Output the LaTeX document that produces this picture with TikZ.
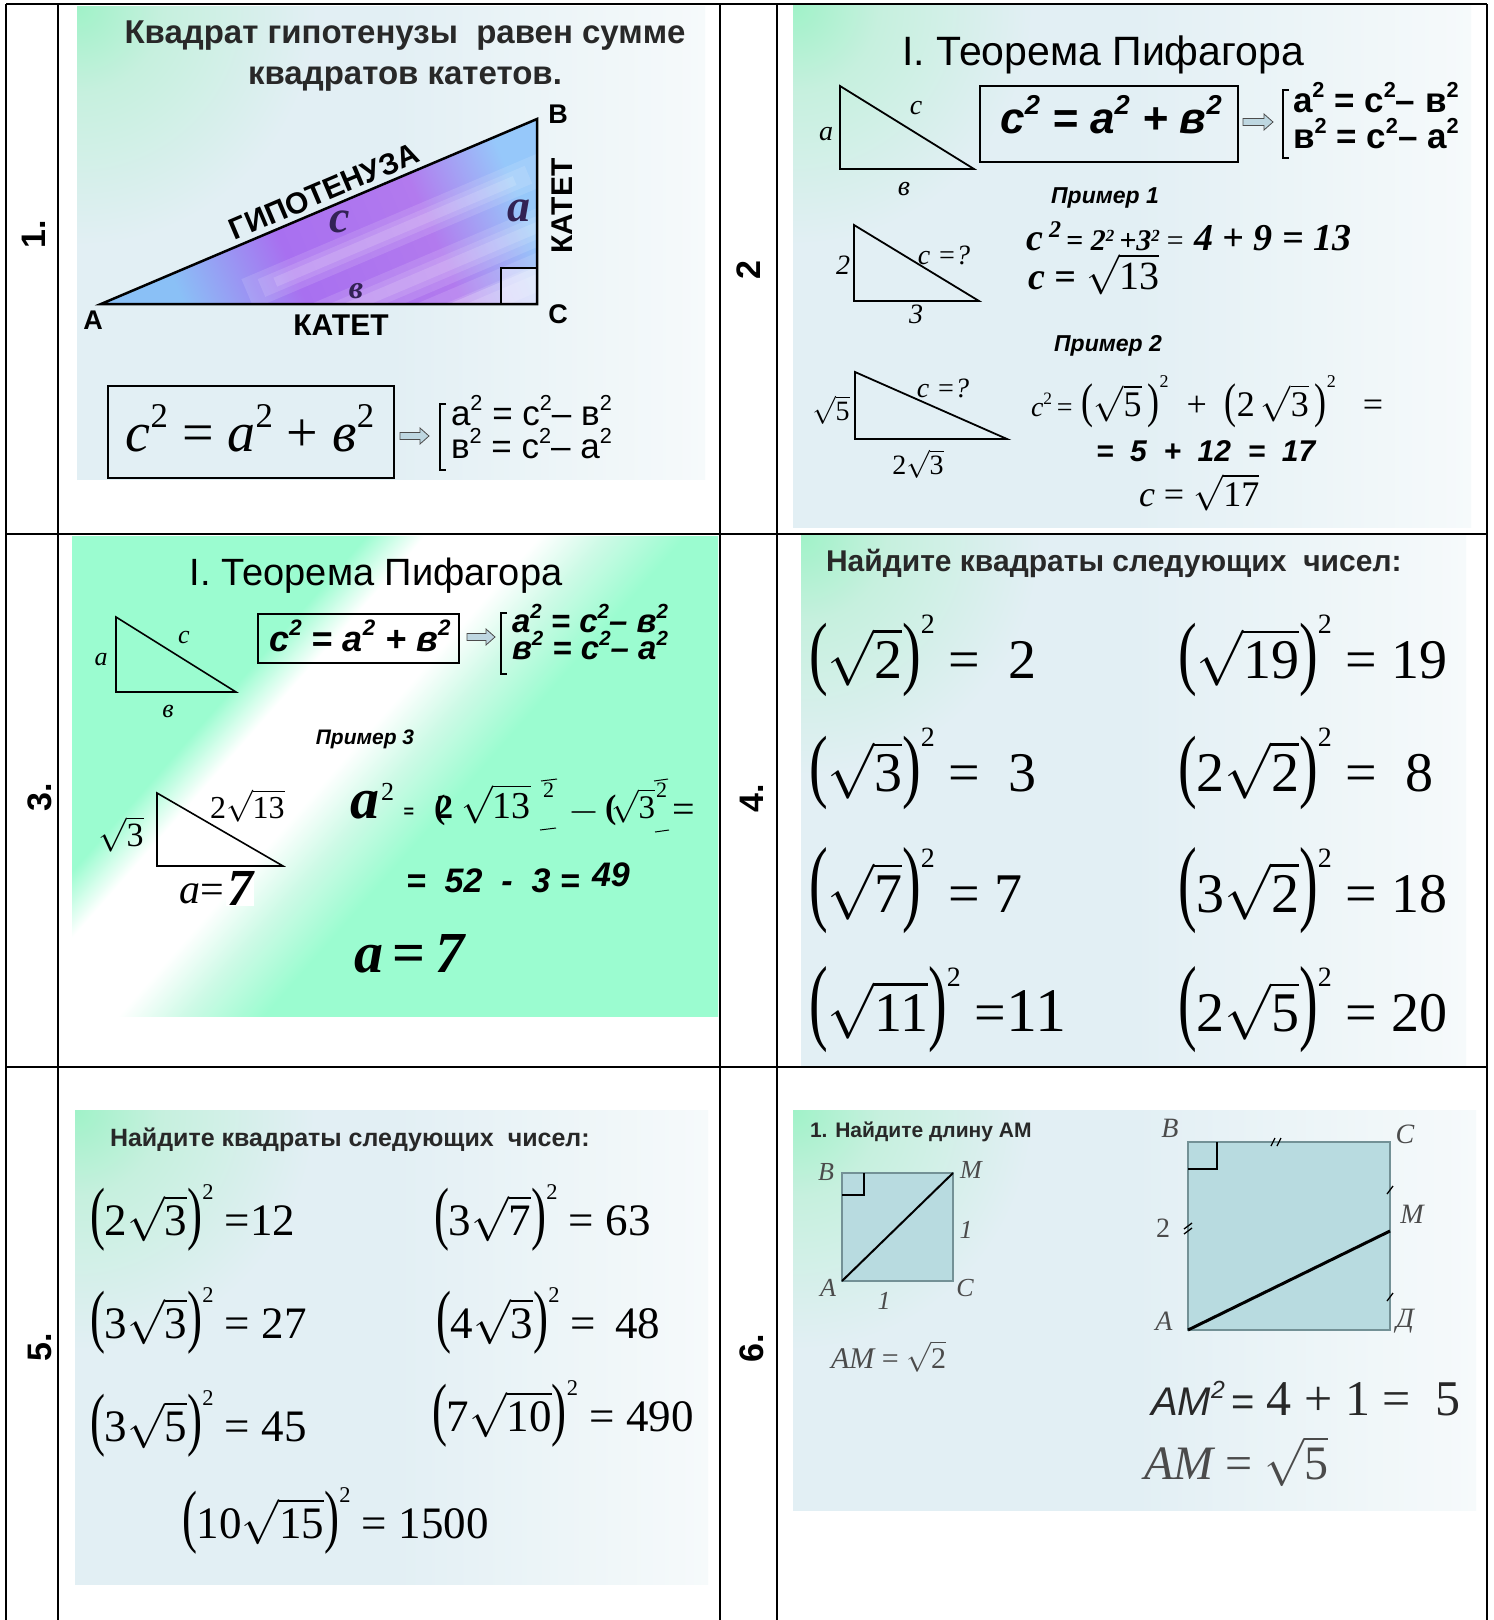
\RequirePackage{fix-cm}
\documentclass[tikz,border=0pt]{standalone}
\usepackage{fontspec}
\usepackage{graphicx}
\setmainfont{Liberation Serif}
\newfontfamily\arialf{Liberation Sans}
\newcommand\fsz[1]{\fontsize{#1}{#1}\selectfont}
\newcommand\sq[1]{\raisebox{0.42em}{\scalebox{0.62}{#1}}}
\newcommand\psq[1]{\raisebox{0.8em}{\scalebox{0.5}{#1}}}
\newcommand\LP[1][1.45]{\raisebox{-0.03em}{\scalebox{1}[#1]{(}}}
\newcommand\RP[1][1.45]{\raisebox{-0.03em}{\scalebox{1}[#1]{)}}}
\newcommand\rt[1]{$\sqrt{\mbox{#1}}$}

\definecolor{bgblue}{RGB}{226,239,244}
\definecolor{bgwhite}{RGB}{246,250,251}
\definecolor{glow}{RGB}{160,242,200}
\definecolor{glowmid}{RGB}{198,240,222}
\definecolor{mint}{RGB}{155,252,208}
\definecolor{mintpale}{RGB}{205,250,230}
\definecolor{tblue}{RGB}{138,192,246}
\definecolor{tpurp}{RGB}{168,112,240}
\definecolor{tpurp2}{RGB}{178,122,238}
\definecolor{tblue3}{RGB}{150,200,250}
\definecolor{tealf}{RGB}{184,219,224}
\definecolor{tealline}{RGB}{115,145,150}
\definecolor{txtd}{RGB}{40,40,40}
\definecolor{lblc}{RGB}{75,75,75}
\definecolor{letc}{RGB}{50,34,84}
\definecolor{arrowc}{RGB}{190,215,225}

\pgfdeclarehorizontalshading{basesh}{100bp}{color(0bp)=(bgblue); color(50bp)=(bgblue); color(75bp)=(bgwhite); color(100bp)=(bgwhite)}
\pgfdeclareradialshading{glowsh}{\pgfpoint{0bp}{0bp}}{color(0bp)=(glow); color(9bp)=(glowmid); color(25bp)=(bgblue); color(50bp)=(bgblue)}
\pgfdeclarehorizontalshading{bandsh}{100bp}{color(0bp)=(mint); color(41bp)=(mint); color(43.2bp)=(white); color(47.5bp)=(white); color(50bp)=(mintpale); color(53bp)=(mint); color(100bp)=(mint)}
\pgfdeclarehorizontalshading{trish}{100bp}{color(0bp)=(tblue); color(33bp)=(tblue); color(45bp)=(tpurp); color(60bp)=(tpurp2); color(70bp)=(tblue3); color(100bp)=(tblue3)}

\newcommand\slidebg[5]{%
  \begin{scope}
    \clip (#1,#2) rectangle (#3,#4);
    \shade[shading=basesh] (#1,#2) rectangle (#3,#4);
    \shade[shading=glowsh] (#1,#2) circle (#5);
  \end{scope}}
\newcommand\harrow[3]{%
  \filldraw[fill=arrowc, draw=black!70, line width=0.8pt] (#1,#3-3.5) -- (#2-9,#3-3.5) -- (#2-9,#3-8) -- (#2,#3) -- (#2-9,#3+8) -- (#2-9,#3+3.5) -- (#1,#3+3.5) -- cycle;}
\newcommand\brk[3]{\draw[line width=1.5pt] (#1+6,#2)--(#1,#2)--(#1,#3)--(#1+6,#3);}
\newcommand\streak[4]{% x1 x2 yc halfwidth
  \fill[white, opacity=0.12] (#1,#3-#4) rectangle (#2,#3+#4);
  \fill[white, opacity=0.12] (#1+15,#3-0.6*#4) rectangle (#2-15,#3+0.6*#4);
  \fill[white, opacity=0.14] (#1+30,#3-0.3*#4) rectangle (#2-30,#3+0.3*#4);}

\tikzset{
  lbl/.style={font=\arialf\bfseries\fsz{34}, rotate=90, inner sep=0},
  tx/.style={inner sep=0, outer sep=0},
  sansb/.style={tx, font=\arialf\bfseries},
  grid/.style={line width=2pt},
}

\begin{document}
\begin{tikzpicture}[x=1pt,y=-1pt]
\useasboundingbox (0,0) rectangle (1494,1620);
\fill[white] (0,0) rectangle (1494,1620);

% ================= slide 1 =================
\slidebg{77}{6}{705}{479}{240}
\node[tx, anchor=base, text=txtd, font=\arialf\bfseries\fsz{33}] (s1t1) at (405,43) {Квадрат гипотенузы\ \ равен сумме};
\node[tx, anchor=base, text=txtd, font=\arialf\bfseries\fsz{33}] (s1t2) at (405,84) {квадратов катетов.};
\begin{scope}
  \clip (101,304) -- (537,119) -- (537,304) -- cycle;
  \begin{scope}[transform canvas={rotate around={23:(101,304)}}]
    \shade[shading=trish] (101,54) rectangle (575,554);
    \streak{240}{560}{352}{16}
    \streak{200}{570}{404}{18}
    \streak{330}{620}{455}{28}
    \fill[white, opacity=0.2] (420,440) rectangle (640,520);
  \end{scope}
  \fill[white, opacity=0.45] (501,268) rectangle (537,304);
\end{scope}
\draw[line width=2.5pt, line join=miter] (101,304) -- (537,119) -- (537,304) -- cycle;
\draw[line width=2pt] (501,304) -- (501,268) -- (537,268);
\node[sansb, font=\arialf\bfseries\fsz{27}] (s1B) at (558,114) {B};
\node[sansb, font=\arialf\bfseries\fsz{27}] (s1C) at (558,314) {C};
\node[sansb, font=\arialf\bfseries\fsz{27}] (s1A) at (93,320) {A};
\node[sansb, font=\arialf\bfseries\fsz{30}, rotate=90] (s1k1) at (562,206) {КАТЕТ};
\node[sansb, font=\arialf\bfseries\fsz{30}] (s1k2) at (341,325) {КАТЕТ};
\node[sansb, font=\arialf\bfseries\fsz{30}, rotate=23, anchor=base] (s1g) at (328,201) {ГИПОТЕНУЗА};
\node[tx, text=letc, font=\bfseries\itshape\fsz{46}] (s1c) at (340,222) {c};
\node[tx, text=letc, font=\bfseries\itshape\fsz{46}] (s1a) at (519,211) {a};
\node[tx, text=letc, font=\bfseries\itshape\fsz{32}] (s1v) at (356,291) {в};
\draw[line width=1.8pt] (108,386) rectangle (394,478);
\node[tx, anchor=base, font=\itshape\fsz{56}] (s1f) at (250,451) {c\sq{\upshape 2} \textup{=} a\sq{\upshape 2} \textup{+} в\sq{\upshape 2}};
\harrow{400}{429}{436}
\brk{440}{404}{470}
\node[tx, anchor=base west, font=\arialf\fsz{35}] (s1l1) at (451,425) {a\sq{2} = c\sq{2}– в\sq{2}};
\node[tx, anchor=base west, font=\arialf\fsz{35}] (s1l2) at (451,458) {в\sq{2} = c\sq{2}– a\sq{2}};

% ================= slide 2 =================
\slidebg{793}{5}{1471}{527}{240}
\node[tx, anchor=base, font=\arialf\fsz{41}] (s2t) at (1103,65) {I. Теорема Пифагора};
\draw[line width=1.8pt] (840,86) -- (840,169) -- (974,169) -- cycle;
\node[tx, font=\itshape\fsz{28}] (s2a) at (826,134) {a};
\node[tx, font=\itshape\fsz{28}] (s2c) at (916,108) {c};
\node[tx, font=\itshape\fsz{28}] (s2v) at (904,189) {в};
\draw[line width=2.2pt] (980,86) rectangle (1238,162);
\node[tx, anchor=base, font=\arialf\bfseries\itshape\fsz{44}] (s2f) at (1111,133) {c\sq{2} = a\sq{2} + в\sq{2}};
\harrow{1243}{1273}{122}
\brk{1283}{90}{158}
\node[tx, anchor=base west, font=\arialf\bfseries\fsz{35}] (s2l1) at (1293,112) {a\sq{2} = c\sq{2}– в\sq{2}};
\node[tx, anchor=base west, font=\arialf\bfseries\fsz{35}] (s2l2) at (1293,148) {в\sq{2} = c\sq{2}– a\sq{2}};
\node[tx, anchor=base, font=\arialf\bfseries\itshape\fsz{23}] (s2p1) at (1105,203) {Пример 1};
\draw[line width=1.8pt] (854,225) -- (854,301) -- (979,301) -- cycle;
\node[tx, font=\itshape\fsz{28}] (s2e2) at (843,265) {2};
\node[tx, font=\itshape\fsz{28}] (s2ec) at (944,255) {c =?};
\node[tx, font=\itshape\fsz{28}] (s2e3) at (916,314) {3};
\node[tx, anchor=base west, font=\bfseries\itshape] (s2x1) at (1026,250) {{\fsz{38}c\,}\raisebox{13pt}{\fsz{24}2}{\fsz{30}\,= 2\raisebox{9pt}{\fsz{17}2}\,+3\raisebox{9pt}{\fsz{17}2}\,{\mdseries =}}\hspace{9pt}{\fsz{38}4 + 9 = 13}};
\node[tx, anchor=base west, font=\bfseries\itshape\fsz{38}] (s2x2) at (1028,289) {c =};
\node[tx, anchor=base west, font=\fsz{40}] (s2x3) at (1086,289) {\rt{13}};
\node[tx, anchor=base, font=\arialf\bfseries\itshape\fsz{23}] (s2p2) at (1108,351) {Пример 2};
\draw[line width=1.8pt] (855,372) -- (855,439) -- (1007,439) -- cycle;
\node[tx, font=\fsz{28}] (s2r5) at (831,410) {\rt{5}};
\node[tx, font=\itshape\fsz{28}] (s2rc) at (943,388) {c =?};
\node[tx, font=\fsz{28}] (s2r3) at (918,464) {2\rt{3}};
\node[tx, anchor=west, font=\fsz{36}] (s2y1) at (1031,402) {{\fsz{28}{\itshape c}\sq{2}\,=}\ \LP[1.35]\rt{5}\,\RP[1.35]\psq{2}\ \ +\ \ \LP[1.35]2\,\rt{3}\,\RP[1.35]\psq{2}\ \ \ =};
\node[tx, anchor=base west, font=\arialf\bfseries\itshape\fsz{30}] (s2y2) at (1096,461) {=\ \ 5\ \ +\ \ 12\ \ =\ \ 17};
\node[tx, anchor=base west, font=\fsz{36}] (s2y3) at (1139,506) {{\itshape c} = \rt{17}};

% ================= slide 3 =================
\begin{scope}
  \clip (72,536) rectangle (718,1016);
  \fill[mint] (72,536) rectangle (718,1016);
  \begin{scope}[transform canvas={rotate around={-41.3:(395,776)}}]
    \shade[shading=bandsh] (-105,276) rectangle (895,1276);
  \end{scope}
\end{scope}
\node[tx, anchor=base, font=\arialf\fsz{38}] (s3t) at (376,585) {I. Теорема Пифагора};
\draw[line width=1.6pt] (116,617) -- (116,692) -- (236,692) -- cycle;
\node[tx, font=\itshape\fsz{26}] (s3a) at (101,660) {a};
\node[tx, font=\itshape\fsz{26}] (s3c) at (184,637) {c};
\node[tx, font=\itshape\fsz{26}] (s3v) at (168,711) {в};
\draw[line width=1.8pt] (258,614) rectangle (459,663);
\node[tx, anchor=base, font=\arialf\bfseries\itshape\fsz{36}] (s3f) at (360,651) {c\sq{2} = a\sq{2} + в\sq{2}};
\harrow{467}{495}{637}
\brk{501}{613}{674}
\node[tx, anchor=base west, font=\arialf\bfseries\itshape\fsz{33}] (s3l1) at (512,632) {a\sq{2} = c\sq{2}– в\sq{2}};
\node[tx, anchor=base west, font=\arialf\bfseries\itshape\fsz{33}] (s3l2) at (512,659) {в\sq{2} = c\sq{2}– a\sq{2}};
\node[tx, anchor=base, font=\arialf\bfseries\itshape\fsz{21}] (s3p) at (365,744) {Пример 3};
\draw[line width=1.6pt] (157,793) -- (157,866) -- (283,866) -- cycle;
\node[tx, anchor=base west, font=\fsz{32}] (s3h) at (210,818) {2\rt{13}};
\node[tx, font=\fsz{34}] (s3k) at (121,834) {\rt{3}};
\node[tx, anchor=base west, font=\fsz{42}] (s3ae) at (179,903) {{\itshape a}=};
\node[fill=white, inner sep=1pt, anchor=base west, font=\bfseries\itshape\fsz{52}] (s3seven) at (226,905) {7};
\node[tx, anchor=base west, font=\bfseries\itshape\fsz{58}] (s3xa) at (350,818) {a};
\node[tx, anchor=base west, font=\fsz{26}] (s3xs) at (381,800) {2};
\node[tx, font=\arialf\bfseries\fsz{18}] (s3xe) at (409,813) {=};
\node[tx, anchor=base west, font=\bfseries\fsz{34}] (s3xg) at (434,818) {\rlap{(}\hspace{2pt}2};
\node[tx, anchor=base west, font=\fsz{38}] (s3xr) at (461,818) {\rt{13}};
\node[tx, anchor=base west, font=\fsz{22}] (s3xs2) at (543,797) {2};
\draw[line width=1pt] (541,781) -- (557,779);
\draw[line width=1pt] (540,830) -- (556,828);
\node[tx, font=\fsz{40}] (s3xm) at (584,812) {$-$};
\node[tx, anchor=base west, font=\bfseries\fsz{34}] (s3xp) at (605,818) {(};
\node[tx, anchor=base west, font=\fsz{33}] (s3xr2) at (611,818) {\rt{3}};
\node[tx, anchor=base west, font=\fsz{22}] (s3xs3) at (656,797) {2};
\draw[line width=1pt] (654,781) -- (668,779);
\draw[line width=1pt] (655,832) -- (669,830);
\node[tx, font=\fsz{40}] (s3xq) at (684,813) {=};
\node[tx, anchor=base west, font=\arialf\bfseries\itshape\fsz{34}] (s3y1) at (406,892) {=\ \ 52\ \ -\ \ 3\ =};
\node[tx, anchor=base west, font=\arialf\bfseries\itshape\fsz{34}] (s3y2) at (592,886) {49};
\node[tx, anchor=base west, font=\bfseries\itshape\fsz{58}] (s3z) at (354,972) {a\,\textup{=}\,7};

% ================= slide 4 =================
\slidebg{801}{535}{1466}{1066}{240}
\node[tx, anchor=base west, text=txtd, font=\arialf\bfseries\fsz{30}] (s4t) at (826,571) {Найдите квадраты следующих\ \ чисел:};
\begin{scope}[every node/.style={tx, anchor=west, font=\fsz{56}}]
\node (s4a) at (809,656) {\LP\rt{2}\RP\psq{2}\ = \ 2};
\node (s4b) at (1178,656) {\LP\rt{19}\RP\psq{2} = 19};
\node (s4c) at (809,769) {\LP\rt{3}\RP\psq{2}\ = \ 3};
\node (s4d) at (1178,769) {\LP2\rt{2}\RP\psq{2}\ = \ 8};
\node (s4e) at (809,891) {\LP[1.7]\rt{7}\RP[1.7]\psq{2} = 7};
\node (s4f) at (1178,891) {\LP[1.7]3\rt{2}\RP[1.7]\psq{2} = 18};
\node (s4g) at (809,1010) {\LP[1.7]\rt{11}\RP[1.7]\psq{2} ={\fsz{62}11}};
\node (s4h) at (1178,1010) {\LP[1.7]2\rt{5}\RP[1.7]\psq{2} = 20};
\end{scope}

% ================= slide 5 =================
\slidebg{75}{1110}{708}{1584}{240}
\node[tx, anchor=base west, text=txtd, font=\arialf\bfseries\fsz{25}] (s5t) at (110,1146) {Найдите квадраты следующих\ \ чисел:};
\begin{scope}[every node/.style={tx, anchor=west, font=\fsz{45}}]
\node (s5a) at (90,1218) {\LP[1.55]2\rt{3}\RP[1.55]\psq{2} =12};
\node (s5b) at (434,1218) {\LP[1.55]3\rt{7}\RP[1.55]\psq{2} = 63};
\node (s5c) at (90,1321) {\LP[1.55]3\rt{3}\RP[1.55]\psq{2} = 27};
\node (s5d) at (436,1321) {\LP[1.55]4\rt{3}\RP[1.55]\psq{2} = \,48};
\node (s5e) at (90,1424) {\LP[1.55]3\rt{5}\RP[1.55]\psq{2} = 45};
\node (s5f) at (432,1414) {\LP[1.55]7\rt{10}\RP[1.55]\psq{2} = 490};
\node (s5g) at (182,1521) {\LP[1.55]10\rt{15}\RP[1.55]\psq{2} = 1500};
\end{scope}

% ================= slide 6 =================
\slidebg{793}{1110}{1476}{1510}{240}
\node[tx, anchor=base west, text=txtd, font=\arialf\bfseries\fsz{21}] (s6t) at (810,1137) {1. Найдите длину АМ};
\filldraw[fill=tealf, draw=tealline, line width=1.2pt] (842,1173) rectangle (953,1281);
\draw[line width=2.5pt] (842,1195) -- (864,1195) -- (864,1173);
\draw[line width=2pt] (842,1281) -- (953,1173);
\begin{scope}[every node/.style={tx, text=lblc, font=\itshape\fsz{26}}]
\node (s6B) at (826,1172) {B};
\node (s6M) at (971,1170) {M};
\node (s6one) at (966,1230) {1};
\node (s6A) at (828,1288) {A};
\node (s6C) at (965,1288) {C};
\node (s6one2) at (884,1301) {1};
\end{scope}
\node[tx, anchor=base west, text=lblc, font=\fsz{30}] (s6am) at (831,1368) {{\itshape AM} = \rt{2}};
\filldraw[fill=tealf, draw=tealline, line width=1.2pt] (1188,1142) rectangle (1390,1330);
\draw[line width=2.5pt] (1188,1169) -- (1217,1169) -- (1217,1142);
\draw[line width=3pt] (1188,1330) -- (1390,1231);
\draw[line width=1.3pt] (1271,1146) -- (1275,1138) (1277,1146) -- (1281,1138);
\draw[line width=1.3pt] (1184,1229) -- (1192,1223) (1184,1234) -- (1192,1228);
\draw[line width=1.3pt] (1387,1194) -- (1393,1186);
\draw[line width=1.3pt] (1387,1301) -- (1393,1293);
\begin{scope}[every node/.style={tx, text=lblc, font=\itshape\fsz{28}}]
\node (s6bB) at (1170,1128) {B};
\node (s6bC) at (1405,1134) {C};
\node (s6b2) at (1163,1228) {\upshape 2};
\node (s6bM) at (1412,1214) {M};
\node (s6bA) at (1164,1321) {A};
\node (s6bD) at (1405,1321) {Д};
\end{scope}
\node[tx, anchor=base west, text=txtd] (s6f1) at (1151,1415) {{\arialf\itshape\fsz{40}AM\sq{2}\,\upshape{=}}\hspace{12pt}{\fsz{50}4 + 1 = \ 5}};
\node[tx, anchor=base west, text=lblc, font=\fsz{48}] (s6f2) at (1144,1479) {{\itshape AM} = \rt{5}};

% ================= table =================
\draw[grid] (6,4) -- (1487,4);
\draw[grid] (6,534) -- (1487,534);
\draw[grid] (6,1067) -- (1487,1067);
\foreach \xx in {6,58,720,777,1487} { \draw[grid] (\xx,4) -- (\xx,1620); }
\node[lbl] (L1) at (34,234) {1.};
\node[lbl] (L2) at (749,270) {2};
\node[lbl] (L3) at (40,797) {3.};
\node[lbl] (L4) at (752,798) {4.};
\node[lbl] (L5) at (40,1347) {5.};
\node[lbl] (L6) at (752,1348) {6.};
\end{tikzpicture}
\end{document}
